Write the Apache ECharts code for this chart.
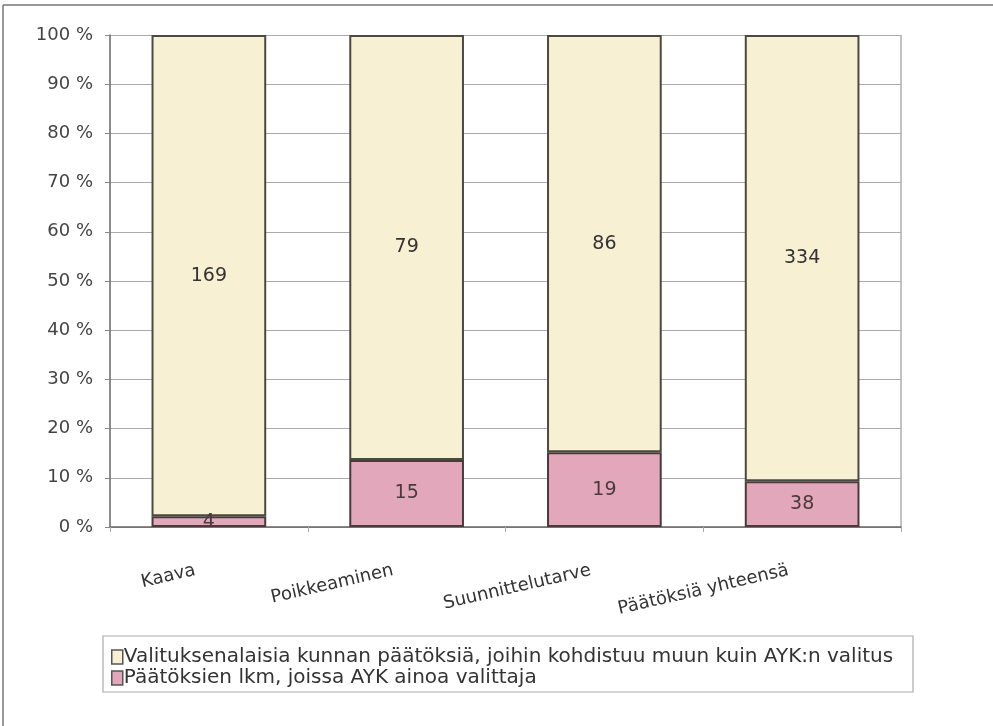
<!DOCTYPE html>
<html><head><meta charset="utf-8">
<script src="https://cdn.jsdelivr.net/npm/echarts@6/dist/echarts.min.js"></script>
<style>html,body{margin:0;padding:0;background:#fff}#c{width:993px;height:726px}</style>
</head><body><div id="c"></div>
<script>
const categories = ['Kaava', 'Poikkeaminen', 'Suunnittelutarve', 'Päätöksiä yhteensä'];
const seriesNames = ['Valituksenalaisia kunnan päätöksiä, joihin kohdistuu muun kuin AYK:n valitus', 'Päätöksien lkm, joissa AYK ainoa valittaja'];
// bar segment heights in percent
const pinkPct = [2.2, 13.6, 15.2, 9.3];
const creamPct = [97.8, 86.4, 84.8, 90.7];
// counts shown as labels
const pinkCounts = [4, 15, 19, 38];
const creamCounts = [169, 79, 86, 334];
const yTicks = [0, 10, 20, 30, 40, 50, 60, 70, 80, 90, 100];

const font = '"DejaVu Sans", sans-serif';
const chart = echarts.init(document.getElementById('c'));
chart.setOption({
  backgroundColor: '#fff',
  animation: false,
  graphic: [
    {type: 'line', shape: {x1: 3, y1: 5, x2: 993, y2: 5}, style: {stroke: '#777', lineWidth: 1.5}},
    {type: 'line', shape: {x1: 3, y1: 5, x2: 3, y2: 726}, style: {stroke: '#777', lineWidth: 1.5}},
    {type: 'rect', shape: {x: 103, y: 636, width: 810, height: 56}, style: {fill: 'none', stroke: '#aaa', lineWidth: 1.2}},
    {type: 'line', shape: {x1: 901, y1: 35, x2: 901, y2: 527}, style: {stroke: '#999', lineWidth: 1.2}}
  ],
  grid: {left: 110, right: 92, top: 35, bottom: 199, containLabel: false},
  legend: {
    orient: 'vertical', left: 106, top: 642, itemWidth: 11, itemHeight: 14, itemGap: 1,
    itemStyle: {borderColor: '#555', borderWidth: 1.5},
    textStyle: {fontFamily: font, fontSize: 20, color: '#333', padding: [0, 0, 0, -4]},
    data: seriesNames.map(n => ({name: n, icon: 'rect'}))
  },
  xAxis: {
    type: 'category', data: categories,
    axisLine: {lineStyle: {color: '#666', width: 1.5}},
    axisTick: {show: true, alignWithLabel: false, length: 5, lineStyle: {color: '#aaa'}},
    axisLabel: {rotate: 13, margin: 40, fontFamily: font, fontSize: 18, color: '#333', padding: [0, 14, 0, 0]}
  },
  yAxis: {
    type: 'value', min: 0, max: 100, interval: 10,
    axisLine: {show: true, lineStyle: {color: '#666', width: 1.5}},
    axisTick: {show: true, length: 5, lineStyle: {color: '#888'}},
    splitLine: {lineStyle: {color: '#aaa', width: 1.2}},
    axisLabel: {fontFamily: font, fontSize: 18, color: '#444', margin: 17,
      formatter: v => yTicks.includes(v) ? v + ' %' : ''}
  },
  series: [
    {
      name: seriesNames[1], type: 'bar', stack: 's', barWidth: '58%',
      data: pinkPct,
      itemStyle: {color: '#e3a7bb', borderColor: '#4a3a3c', borderWidth: 2},
      label: {show: true, position: 'inside', fontFamily: font, fontSize: 19, color: '#4a3a3c',
        formatter: p => pinkCounts[p.dataIndex]}
    },
    {
      name: seriesNames[0], type: 'bar', stack: 's', barWidth: '58%',
      data: creamPct,
      itemStyle: {color: '#f7f0d2', borderColor: '#4a4a42', borderWidth: 2},
      label: {show: true, position: 'inside', fontFamily: font, fontSize: 19, color: '#333',
        formatter: p => creamCounts[p.dataIndex]}
    }
  ]
});
</script></body></html>
